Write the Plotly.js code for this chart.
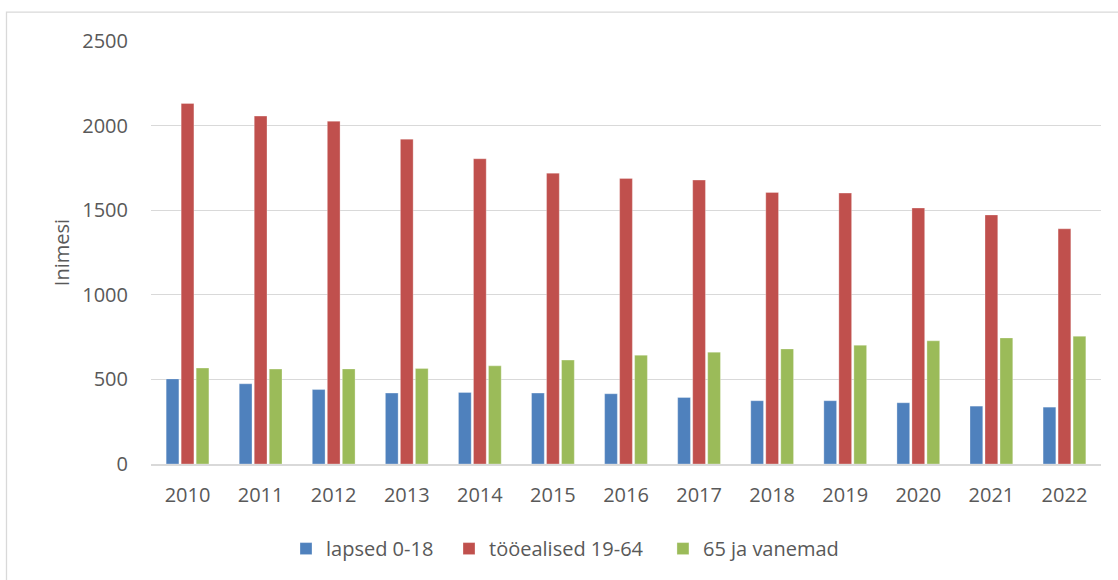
<!DOCTYPE html>
<html>
<head>
<meta charset="utf-8">
<script src="https://cdn.plot.ly/plotly-3.0.1.min.js"></script>
<style>
  html, body { margin: 0; padding: 0; background: #ffffff; }
  #chart { width: 1118px; height: 580px; }
</style>
</head>
<body>
<div id="chart"></div>
<script>
const years = ["2010","2011","2012","2013","2014","2015","2016","2017","2018","2019","2020","2021","2022"];
const lapsed = [503, 474, 440, 419, 423, 419, 415, 393, 374, 374, 362, 342, 336];
const tooealised = [2131, 2056, 2026, 1920, 1804, 1719, 1688, 1678, 1605, 1601, 1513, 1472, 1390];
const vanemad = [567, 561, 562, 564, 580, 614, 643, 661, 680, 702, 728, 745, 755];
const seriesNames = ["lapsed 0-18", "tööealised 19-64", "65 ja vanemad"];
const yTicks = [0, 500, 1000, 1500, 2000, 2500];

const colors = ["#4F81BD", "#C0504D", "#9BBB59"];
const legendIds = ["legend", "legend2", "legend3"];
const legendX = [0.1421, 0.3137, 0.5389];
const font = "Open Sans, Liberation Sans, sans-serif";
const txt = "#595959";

const data = [lapsed, tooealised, vanemad].map((vals, i) => ({
  type: "bar",
  name: seriesNames[i],
  x: years,
  y: vals,
  legend: legendIds[i],
  marker: { color: colors[i], line: { color: "rgba(255,255,255,0.5)", width: 0.6 } },
  hoverinfo: "x+y+name"
}));

function legendCfg(x) {
  return {
    orientation: "h",
    x: x, xanchor: "left",
    y: -0.2, yanchor: "middle",
    bgcolor: "rgba(0,0,0,0)",
    font: { family: font, size: 20, color: txt },
    itemclick: false, itemdoubleclick: false
  };
}

const layout = {
  width: 1118,
  height: 580,
  margin: { l: 151, r: 17, t: 41, b: 116, pad: 0 },
  paper_bgcolor: "#ffffff",
  plot_bgcolor: "#ffffff",
  barmode: "group",
  bargap: 0.384,
  bargroupgap: 0.15,
  font: { family: font, size: 20, color: txt },
  showlegend: true,
  legend: legendCfg(legendX[0]),
  legend2: legendCfg(legendX[1]),
  legend3: legendCfg(legendX[2]),
  xaxis: {
    type: "category",
    showgrid: false,
    showline: true,
    linecolor: "#d9d9d9",
    linewidth: 1.5,
    ticks: "",
    ticklabelstandoff: 12,
    tickfont: { family: font, size: 20, color: txt },
    automargin: false
  },
  yaxis: {
    range: [0, 2500],
    tickvals: yTicks,
    ticktext: yTicks.map(String),
    showgrid: true,
    gridcolor: "#d9d9d9",
    gridwidth: 1.3,
    zeroline: false,
    showline: false,
    ticks: "",
    ticklabelstandoff: 22,
    tickfont: { family: font, size: 20, color: txt },
    title: { text: "Inimesi", font: { family: font, size: 20, color: txt }, standoff: 7 },
    automargin: false
  },
  shapes: [{
    type: "rect", xref: "paper", yref: "paper",
    x0: (6.5 - 151) / 950, x1: 1.05,
    y0: -0.4, y1: (464.3 - 12.5) / 423,
    line: { color: "#d9d9d9", width: 1.3 },
    fillcolor: "rgba(0,0,0,0)",
    layer: "below"
  }]
};

Plotly.newPlot("chart", data, layout, { displayModeBar: false });
</script>
</body>
</html>
